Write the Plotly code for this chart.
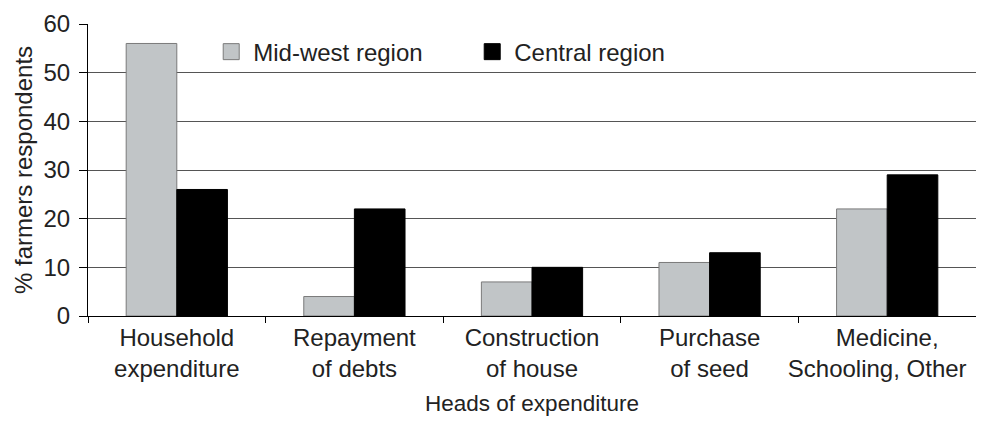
import plotly.graph_objects as go

categories = ["Household<br>expenditure", "Repayment<br>of debts", "Construction<br>of house",
              "Purchase<br>of seed", "Medicine,<br>Schooling, Other\u00a0\u00a0\u00a0"]
mid_west = [56, 4, 7, 11, 22]
central = [26, 22, 10, 13, 29]
y_ticks = [0, 10, 20, 30, 40, 50, 60]

GRAY = "#c1c5c7"
FONT = "Liberation Sans, Arial, sans-serif"

fig = go.Figure()
fig.add_trace(go.Bar(x=categories, y=mid_west, name="Mid-west region", showlegend=False,
                     marker=dict(color=GRAY, line=dict(color="#7a7a7a", width=1))))
fig.add_trace(go.Bar(x=categories, y=central, name="Central region", showlegend=False,
                     marker=dict(color="black", line=dict(color="black", width=1))))

# legend entries with larger square swatches
fig.add_trace(go.Scatter(x=[None], y=[None], mode="markers", name="Mid-west region",
                         marker=dict(symbol="square", size=16, color=GRAY,
                                     line=dict(color="#7a7a7a", width=1))))
fig.add_trace(go.Scatter(x=[None], y=[None], mode="markers", name="Central region",
                         marker=dict(symbol="square", size=16, color="black",
                                     line=dict(color="black", width=1))))

# page has an 8px margin round the figure, so keep it inside the visible window
fig.update_layout(
    width=968, height=408,
    margin=dict(l=80, r=0, t=16, b=100),
    paper_bgcolor="white", plot_bgcolor="white",
    font=dict(family=FONT, size=24, color="#222222"),
    barmode="group", bargap=0.43, bargroupgap=0,
    legend=dict(orientation="h", x=0.1365, y=0.981, xanchor="left", yanchor="top",
                bgcolor="rgba(0,0,0,0)", font=dict(size=24), itemwidth=34,
                entrywidth=212, tracegroupgap=0, traceorder="normal"),
)
fig.update_xaxes(
    type="category", showline=True, linecolor="black", linewidth=1,
    ticks="outside", tickson="boundaries", ticklen=6, tickcolor="black",
    tickangle=0, showgrid=False, automargin=False,
    title=dict(text="Heads of expenditure", font=dict(size=22.5), standoff=20),
)
fig.update_yaxes(
    range=[0, 60], tickvals=y_ticks, showline=True, linecolor="black", linewidth=1,
    ticks="outside", ticklen=8, tickcolor="black", ticklabelstandoff=4,
    showgrid=True, gridcolor="#555555", gridwidth=1, zeroline=False, automargin=False,
    title=dict(text="% farmers respondents", font=dict(size=24), standoff=4),
)

fig.write_html("out.html")
